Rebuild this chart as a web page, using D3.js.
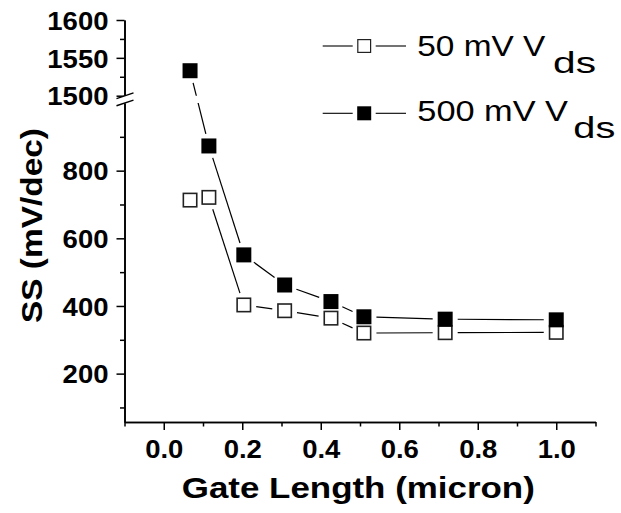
<!DOCTYPE html>
<html>
<head>
<meta charset="utf-8">
<script src="https://cdn.jsdelivr.net/npm/d3@7/dist/d3.min.js"></script>
<style>
  html, body { margin: 0; padding: 0; background: #fff; }
  svg { display: block; font-family: "Liberation Sans", Arial, sans-serif; }
</style>
</head>
<body>
<svg id="chart" width="621" height="513"></svg>
<script>
// Subthreshold swing vs. gate length at two drain biases
const gateLength = [0.067, 0.115, 0.204, 0.308, 0.426, 0.51, 0.717, 1.0];
const ss50mV  = [713, 721, 403, 386, 364, 320, 321, 322];
const ss500mV = [1533, 873, 551, 462, 413, 368, 361, 359];

const xMajorTicks = [0, 0.2, 0.4, 0.6, 0.8, 1.0];
const xMinorTicks = [-0.1, 0.1, 0.3, 0.5, 0.7, 0.9, 1.1];
const yLowMajor = [200, 400, 600, 800];
const yLowMinor = [100, 300, 500, 700, 900];
const yHighMajor = [1500, 1550, 1600];
const yHighMinor = [1525, 1575];

const seriesNames = ["50 mV V", "500 mV V"];
const seriesSub = "ds";
const xTitle = "Gate Length (micron)";
const yTitle = "SS (mV/dec)";

const svg = d3.select("#chart");

// scales: broken y axis (lower and upper segment)
const x = d3.scaleLinear().domain([-0.1, 1.1]).range([124.5, 595.5]);
const yLow = d3.scaleLinear().domain([57, 1000]).range([422, 103]);
const yHigh = d3.scaleLinear().domain([1500, 1600]).range([95.7, 20]);
const breakAt = 1200;
const y = v => (v >= breakAt ? yHigh(v) : yLow(v));

const axisColor = "#000";
const tickFont = 25;

function stretchText(sel, factor) {
  sel.each(function () {
    const w = this.getComputedTextLength();
    d3.select(this).attr("textLength", w * factor).attr("lengthAdjust", "spacingAndGlyphs");
  });
}

function styleAxis(g) {
  g.selectAll("path.domain").attr("stroke", axisColor).attr("stroke-width", 1.6);
  g.selectAll(".tick line").attr("stroke", axisColor).attr("stroke-width", 1.5);
  g.selectAll("text")
    .attr("fill", "#000")
    .style("font-size", tickFont + "px")
    .style("font-weight", "bold")
    .style("font-family", "'Liberation Sans', Arial, sans-serif");
}

// x axis
const xAxisY = 422;
const gxMinor = svg.append("g").attr("transform", `translate(0,${xAxisY})`)
  .call(d3.axisBottom(x).tickValues(xMinorTicks).tickSize(4.5).tickSizeOuter(0).tickFormat(""));
styleAxis(gxMinor);
const gx = svg.append("g").attr("transform", `translate(0,${xAxisY})`)
  .call(d3.axisBottom(x).tickValues(xMajorTicks).tickSize(8).tickPadding(10).tickSizeOuter(0)
    .tickFormat(d3.format(".1f")));
styleAxis(gx);
gx.selectAll("text").attr("dy", "0.71em");
stretchText(gx.selectAll("text"), 1.1);

// y axis, lower segment
const yAxisX = 124.5;
function yAxis(scale, major, minor) {
  const gm = svg.append("g").attr("transform", `translate(${yAxisX},0)`)
    .call(d3.axisLeft(scale).tickValues(minor).tickSize(4.5).tickSizeOuter(0).tickFormat(""));
  styleAxis(gm);
  const g = svg.append("g").attr("transform", `translate(${yAxisX},0)`)
    .call(d3.axisLeft(scale).tickValues(major).tickSize(8).tickPadding(8).tickSizeOuter(0)
      .tickFormat(d3.format("d")));
  styleAxis(g);
  g.selectAll("text").attr("dy", "0.37em");
  stretchText(g.selectAll("text"), 1.1);
  return g;
}
yAxis(yLow, yLowMajor, yLowMinor);
yAxis(yHigh, yHighMajor, yHighMinor);

// axis break marks
const breakMid = (yHigh.range()[0] + yLow.range()[1]) / 2;
svg.append("rect").attr("x", yAxisX - 2).attr("y", breakMid - 3.5).attr("width", 4).attr("height", 7).attr("fill", "#fff");
[-3.6, 3.6].forEach(off => {
  svg.append("line")
    .attr("x1", yAxisX - 8).attr("y1", breakMid + off + 2.8)
    .attr("x2", yAxisX + 9).attr("y2", breakMid + off - 2.8)
    .attr("stroke", "#000").attr("stroke-width", 1.4);
});

// clip the connecting lines across the break band
const defs = svg.append("defs");
const clip = defs.append("clipPath").attr("id", "breakClip");
clip.append("rect").attr("x", 0).attr("y", 0).attr("width", 621).attr("height", yHigh.range()[0]);
clip.append("rect").attr("x", 0).attr("y", yLow.range()[1]).attr("width", 621).attr("height", 513);

const markerSize = 15;
const gapFromCenter = 12.5;

function drawSeries(values, filled) {
  const pts = values.map((v, i) => [x(gateLength[i]), y(v)]);
  const lg = svg.append("g").attr("clip-path", "url(#breakClip)");
  for (let i = 0; i < pts.length - 1; i++) {
    const [x1, y1] = pts[i], [x2, y2] = pts[i + 1];
    const len = Math.hypot(x2 - x1, y2 - y1);
    if (len <= 2 * gapFromCenter) continue;
    const ux = (x2 - x1) / len, uy = (y2 - y1) / len;
    lg.append("line")
      .attr("x1", x1 + ux * gapFromCenter).attr("y1", y1 + uy * gapFromCenter)
      .attr("x2", x2 - ux * gapFromCenter).attr("y2", y2 - uy * gapFromCenter)
      .attr("stroke", "#000").attr("stroke-width", 1.2);
  }
  svg.append("g").selectAll("rect").data(pts).join("rect")
    .attr("x", d => d[0] - markerSize / 2 + (filled ? 0 : 0.8))
    .attr("y", d => d[1] - markerSize / 2 + (filled ? 0 : 0.8))
    .attr("width", filled ? markerSize : markerSize - 1.6)
    .attr("height", filled ? markerSize : markerSize - 1.6)
    .attr("fill", filled ? "#000" : "#fff")
    .attr("stroke", filled ? "none" : "#222")
    .attr("stroke-width", filled ? 0 : 1.6);
}
drawSeries(ss50mV, false);
drawSeries(ss500mV, true);

// legend
const legendRows = [
  { name: seriesNames[0], filled: false, ly: 46, base: 56, mainLen: 128, subX: 553, subLen: 43 },
  { name: seriesNames[1], filled: true, ly: 113.3, base: 121, mainLen: 150.7, subX: 573.3, subLen: 42 }
];
legendRows.forEach(r => {
  const g = svg.append("g");
  g.append("line").attr("x1", 322.7).attr("x2", 352.7).attr("y1", r.ly).attr("y2", r.ly)
    .attr("stroke", "#000").attr("stroke-width", 1.1);
  g.append("line").attr("x1", 375.7).attr("x2", 406).attr("y1", r.ly).attr("y2", r.ly)
    .attr("stroke", "#000").attr("stroke-width", 1.1);
  const s = 14;
  g.append("rect")
    .attr("x", 364.2 - s / 2 + (r.filled ? 0 : 0.6)).attr("y", r.ly - s / 2 + (r.filled ? 0 : 0.6))
    .attr("width", r.filled ? s : s - 1.2).attr("height", r.filled ? s : s - 1.2)
    .attr("fill", r.filled ? "#000" : "#fff")
    .attr("stroke", r.filled ? "none" : "#222").attr("stroke-width", 1.2);
  g.append("text").attr("x", 417.3).attr("y", r.base)
    .attr("textLength", r.mainLen).attr("lengthAdjust", "spacingAndGlyphs")
    .style("font-size", "29px").attr("fill", "#000").text(r.name);
  g.append("text").attr("x", r.subX).attr("y", r.base + 16.5)
    .attr("textLength", r.subLen).attr("lengthAdjust", "spacingAndGlyphs")
    .style("font-size", "29px").attr("fill", "#000").text(seriesSub);
});

// axis titles
svg.append("text")
  .attr("x", 358.3).attr("y", 498.3).attr("text-anchor", "middle")
  .attr("textLength", 353).attr("lengthAdjust", "spacingAndGlyphs")
  .style("font-size", "30px").style("font-weight", "bold").attr("fill", "#000")
  .text(xTitle);

svg.append("text")
  .attr("transform", "translate(42,225.5) rotate(-90)")
  .attr("text-anchor", "middle")
  .attr("textLength", 195).attr("lengthAdjust", "spacingAndGlyphs")
  .style("font-size", "30px").style("font-weight", "bold").attr("fill", "#000")
  .text(yTitle);
</script>
</body>
</html>
